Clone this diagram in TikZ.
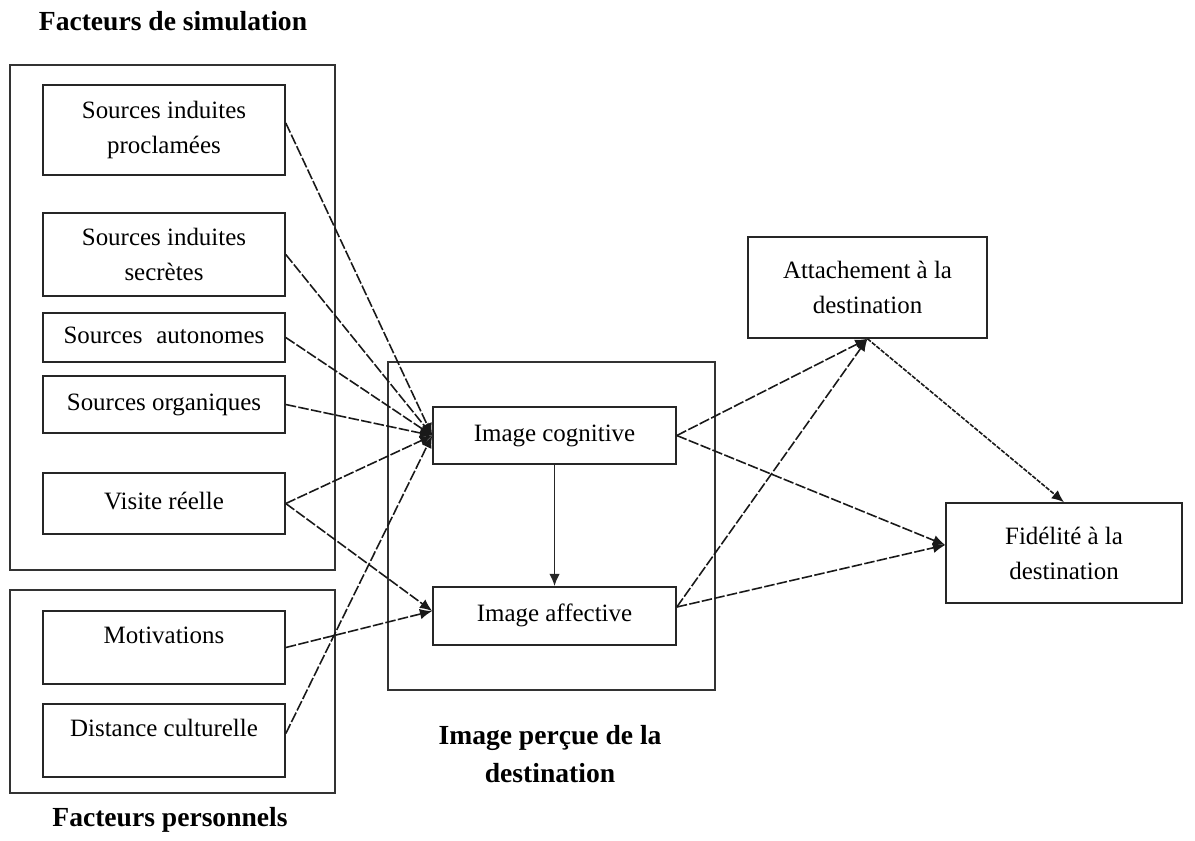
\documentclass[tikz,border=0pt]{standalone}
\usepackage{fontspec}
\setmainfont{Liberation Serif}
\usetikzlibrary{arrows.meta}
\begin{document}
\begin{tikzpicture}[x=0.02cm,y=-0.02cm,
  box/.style 2 args={draw=black!85,line width=0.9pt,inner sep=0pt,minimum width=#1*0.02cm,minimum height=#2*0.02cm,align=center,font=\fontsize{14.2}{20}\selectfont},
  one/.style={text height=9.5pt,text depth=3pt},
  high/.style={text height=10pt,text depth=14.2pt},
  grp/.style={draw=black!80,line width=0.9pt,inner sep=0pt},
  title/.style={font=\fontsize{15.7}{21.5}\selectfont\bfseries,align=center,inner sep=0pt},
  tip/.style={-{Latex[length=7pt,width=6pt]}},
  dsh/.style={draw=black!90,line width=0.9pt,dash pattern=on 6pt off 1.3pt,tip},
  fine/.style={draw=black!90,line width=0.9pt,dash pattern=on 2.5pt off 0.8pt,tip},
  sol/.style={draw=black!85,line width=1.1pt,tip}]
\useasboundingbox (0,0) rectangle (1195,840);

% group frames
\node[grp,minimum width=325*0.02cm,minimum height=505*0.02cm] (g1) at (172.5,317.5) {};
\node[grp,minimum width=325*0.02cm,minimum height=203*0.02cm] (g2) at (172.5,691.5) {};
\node[grp,minimum width=327*0.02cm,minimum height=328*0.02cm] (g3) at (551.5,526) {};

% titles
\node[title] (t1) at (173,21) {Facteurs de simulation};
\node[title] (t2) at (170,820) {Facteurs personnels};
\node[title] (t3) at (550,754) {Image perçue de la\\destination};

% left boxes
\node[box={242}{90}] (p1) at (164,130) {Sources induites\\proclamées};
\node[box={242}{83}] (p2) at (164,254.5) {Sources induites\\secrètes};
\node[box={242}{49},one] (p3) at (164,337.5) {Sources\hspace{0.55em}autonomes};
\node[box={242}{57},one] (p4) at (164,404.5) {Sources organiques};
\node[box={242}{61},one] (p5) at (164,503.5) {Visite réelle};
\node[box={242}{73},high] (m1) at (164,647.5) {Motivations};
\node[box={242}{73},high] (m2) at (164,740.5) {Distance culturelle};

% middle
\node[box={243}{57},one] (cog) at (554.5,435.5) {Image cognitive};
\node[box={243}{58},one] (aff) at (554.5,616) {Image affective};

% right
\node[box={239}{101}] (att) at (867.5,287.5) {Attachement à la\\destination};
\node[box={236}{100}] (fid) at (1064,553) {Fidélité à la\\destination};

% connectors to cognitive image
\draw[dsh] ([yshift=0.14cm]p1.east) -- (cog.west);
\draw[dsh] (p2.east) -- (cog.west);
\draw[dsh] (p3.east) -- (cog.west);
\draw[dsh] (p4.east) -- (cog.west);
\draw[dsh] (p5.east) -- (cog.west);
\draw[dsh] ([yshift=0.14cm]m2.east) -- (cog.west);

% connectors to affective image
\draw[dsh] (p5.east) -- ([yshift=0.1cm]aff.west);
\draw[dsh] (m1.east) -- ([yshift=0.1cm]aff.west);

\draw[sol] (cog.south) -- (aff.north);

% right side
\draw[dsh] (cog.east) -- (att.south);
\draw[dsh] (cog.east) -- ([yshift=0.16cm]fid.west);
\draw[dsh] ([yshift=0.18cm]aff.east) -- (att.south);
\draw[dsh] ([yshift=0.18cm]aff.east) -- ([yshift=0.16cm]fid.west);
\draw[fine] (att.south) -- (fid.north);
\end{tikzpicture}
\end{document}
